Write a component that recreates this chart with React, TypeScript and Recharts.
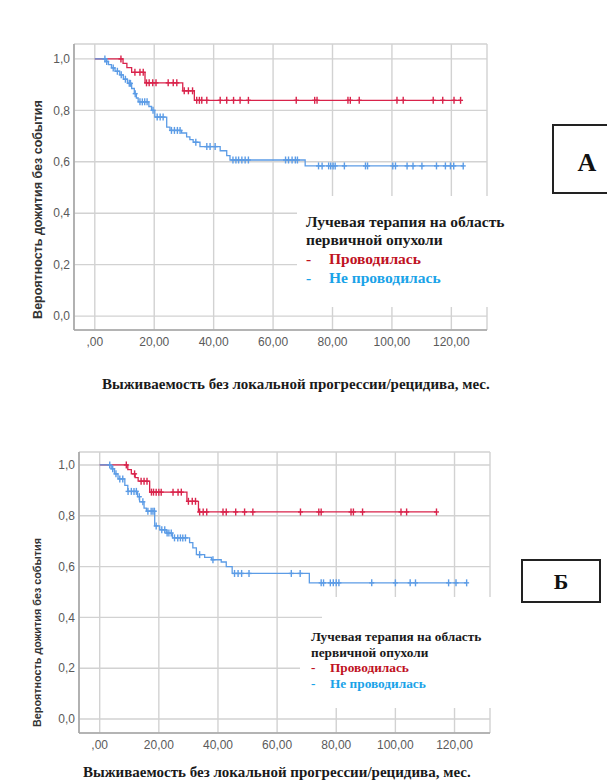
import React from "react";
import { ComposedChart, Line, Scatter, XAxis, YAxis, CartesianGrid } from "recharts";

// ─── Palette ────────────────────────────────────────────────────────────────
const RED = "#d9234b";
const BLUE = "#5c9ce6";
const LEG_RED = "#c0121f";
const LEG_BLUE = "#1aa3e8";
const GRID = "#d2d2d2";
const AXIS = "#a6a6a6";
const TICK = "#5a5a5a";

// ─── Data: panel А ──────────────────────────────────────────────────────────
const redA_t = [0, 9.5, 10.8, 12.4, 16.9, 29.6, 33.5];
const redA_s = [1, 0.983, 0.966, 0.948, 0.907, 0.876, 0.839];
const redA_end = 123.1;
const redA_cens = [8.8, 13.5, 15.2, 16.3, 17.4, 18.3, 19.5, 20.6, 24.7, 26.4, 27.6, 30.1, 31.5, 32.9, 34.3, 35.2, 36.0, 37.7, 42.2, 44.4, 46.7, 48.9, 51.7, 67.8, 74.0, 74.8, 85.2, 86.0, 89.0, 101.7, 103.8, 113.9, 117.1, 120.9, 123.1];

const blueA_t = [0, 3.8, 4.6, 5.6, 6.8, 8.4, 9.6, 11.0, 12.4, 13.3, 14.0, 14.6, 18.2, 19.1, 20.2, 24.2, 25.3, 29.2, 30.9, 32.0, 33.1, 35.4, 42.2, 44.4, 45.5, 70.8];
const blueA_s = [1, 0.99, 0.978, 0.965, 0.952, 0.938, 0.921, 0.905, 0.885, 0.865, 0.848, 0.833, 0.815, 0.8, 0.774, 0.735, 0.722, 0.712, 0.697, 0.686, 0.676, 0.659, 0.643, 0.624, 0.607, 0.584];
const blueA_end = 124.0;
const blueA_cens = [3.4, 4.0, 6.2, 7.6, 8.9, 10.3, 11.6, 12.0, 13.6, 15.2, 16.0, 16.8, 17.6, 19.6, 21.0, 22.0, 23.0, 25.8, 26.8, 27.8, 28.7, 34.0, 37.7, 38.8, 40.5, 46.5, 47.5, 48.4, 49.5, 50.6, 51.7, 64.2, 65.2, 66.4, 67.5, 68.2, 75.3, 76.5, 78.7, 79.4, 80.2, 80.9, 84.0, 91.1, 91.8, 100.3, 101.2, 105.1, 107.1, 110.1, 115.0, 118.0, 119.7, 120.8, 124.0];

// ─── Data: panel Б ──────────────────────────────────────────────────────────
const redB_t = [0, 9.5, 10.7, 12.0, 13.0, 16.9, 29.5, 33.4];
const redB_s = [1, 0.982, 0.965, 0.95, 0.936, 0.893, 0.857, 0.815];
const redB_end = 113.9;
const redB_cens = [9.0, 11.8, 14.0, 15.0, 16.0, 17.5, 18.2, 19.1, 20.0, 20.8, 24.8, 26.5, 27.6, 30.0, 31.3, 32.4, 33.8, 35.0, 36.2, 41.7, 42.8, 46.0, 49.0, 51.8, 67.9, 74.1, 74.9, 85.0, 85.8, 88.9, 101.9, 103.8, 113.9];

const blueB_t = [0, 3.9, 5.0, 6.2, 8.5, 9.5, 12.8, 13.5, 15.0, 15.8, 18.6, 20.3, 22.5, 24.6, 30.4, 31.5, 32.7, 35.5, 37.8, 41.1, 42.8, 44.8, 70.9];
const blueB_s = [1, 0.985, 0.965, 0.945, 0.92, 0.896, 0.875, 0.855, 0.83, 0.818, 0.76, 0.745, 0.732, 0.713, 0.694, 0.674, 0.647, 0.636, 0.627, 0.618, 0.6, 0.573, 0.536];
const blueB_end = 124.1;
const blueB_cens = [3.4, 4.4, 5.5, 6.8, 7.8, 9.6, 10.7, 11.6, 12.4, 13.4, 14.6, 16.3, 17.4, 18.0, 18.5, 19.1, 21.0, 22.0, 22.8, 23.4, 24.2, 25.3, 26.4, 27.3, 28.1, 29.0, 33.8, 38.3, 45.6, 46.8, 48.0, 50.5, 64.8, 67.8, 74.9, 75.7, 78.0, 79.0, 80.0, 80.9, 92.0, 100.0, 105.0, 106.8, 118.0, 120.5, 124.1];

// ─── Axis text ──────────────────────────────────────────────────────────────
const X_TICKS = [0, 20, 40, 60, 80, 100, 120];
const Y_TICKS = [0, 0.2, 0.4, 0.6, 0.8, 1.0];
const Y_TITLE = "Вероятность дожития без события";
const X_TITLE = "Выживаемость без локальной прогрессии/рецидива, мес.";
const LEG_HEAD = ["Лучевая терапия на область", "первичной опухоли"];
const LEG_ITEMS = ["Проводилась", "Не проводилась"];

const fmtX = (v: number) => (v === 0 ? ",00" : v.toFixed(2).replace(".", ","));
const fmtY = (v: number) => v.toFixed(1).replace(".", ",");

function stepData(t: number[], s: number[], end: number) {
  const pts = t.map((x, i) => ({ t: x, s: s[i] }));
  pts.push({ t: end, s: s[s.length - 1] });
  return pts;
}

function survAt(t: number[], s: number[], x: number) {
  let v = s[0];
  for (let i = 0; i < t.length; i++) if (t[i] <= x) v = s[i];
  return v;
}

function censData(t: number[], s: number[], cens: number[]) {
  return cens.map((x) => ({ t: x, s: survAt(t, s, x) }));
}

const plus = (color: string) => (p: any) => (
  <g>
    <line x1={p.cx} y1={p.cy - 3.5} x2={p.cx} y2={p.cy + 3.5} stroke={color} strokeWidth={1.4} />
    <line x1={p.cx - 2.5} y1={p.cy} x2={p.cx + 2.5} y2={p.cy} stroke={color} strokeWidth={1.4} />
  </g>
);

interface PanelProps {
  top: number;
  height: number;
  margin: { top: number; right: number; bottom: number; left: number };
  yDomain: [number, number];
  red: [number[], number[], number, number[]];
  blue: [number[], number[], number, number[]];
}

function Panel({ top, height, margin, yDomain, red, blue }: PanelProps) {
  const tickStyle = { fill: TICK, fontSize: 12, fontFamily: "Liberation Sans, Arial, sans-serif" };
  return (
    <div style={{ position: "absolute", left: 0, top }}>
      <ComposedChart width={607} height={height} margin={margin}>
        <CartesianGrid stroke={GRID} strokeWidth={1.4} fill="none" />
        <XAxis
          dataKey="t"
          type="number"
          domain={[-7, 132]}
          allowDataOverflow
          ticks={X_TICKS}
          tickFormatter={fmtX}
          tick={tickStyle}
          tickLine={false}
          tickSize={4}
          tickMargin={3}
          height={30}
          axisLine={{ stroke: AXIS, strokeWidth: 1.6 }}
        />
        <YAxis
          dataKey="s"
          type="number"
          domain={yDomain}
          allowDataOverflow
          ticks={Y_TICKS}
          tickFormatter={fmtY}
          tick={tickStyle}
          tickLine={false}
          tickSize={2}
          tickMargin={2}
          width={40}
          axisLine={{ stroke: AXIS, strokeWidth: 1.6 }}
        />
        <Line data={stepData(red[0], red[1], red[2])} dataKey="s" type="stepAfter" stroke={RED} strokeWidth={1.3} dot={false} isAnimationActive={false} />
        <Line data={stepData(blue[0], blue[1], blue[2])} dataKey="s" type="stepAfter" stroke={BLUE} strokeWidth={1.3} dot={false} isAnimationActive={false} />
        <Scatter data={censData(red[0], red[1], red[3])} dataKey="s" shape={plus(RED)} isAnimationActive={false} />
        <Scatter data={censData(blue[0], blue[1], blue[3])} dataKey="s" shape={plus(BLUE)} isAnimationActive={false} />
      </ComposedChart>
    </div>
  );
}

function YTitle({ cx, cy, size }: { cx: number; cy: number; size: number }) {
  const w = 300;
  return (
    <div
      style={{
        position: "absolute",
        left: cx - w / 2,
        top: cy - size * 0.6,
        width: w,
        height: size * 1.2,
        lineHeight: `${size * 1.2}px`,
        textAlign: "center",
        transform: "rotate(-90deg)",
        fontFamily: "Liberation Sans, Arial, sans-serif",
        fontWeight: 700,
        fontSize: size,
        color: "#333",
        whiteSpace: "nowrap",
      }}
    >
      {Y_TITLE}
    </div>
  );
}

function Legend({ left, top, size, lh, gap }: { left: number; top: number; size: number; lh: number; gap: number }) {
  const serif = "Liberation Serif, Times New Roman, serif";
  return (
    <div style={{ position: "absolute", left, top, fontFamily: serif, fontWeight: 700, fontSize: size, lineHeight: `${lh}px`, color: "#1a1a1a", whiteSpace: "nowrap" }}>
      <div>{LEG_HEAD[0]}</div>
      <div>{LEG_HEAD[1]}</div>
      <div style={{ color: LEG_RED }}>
        <span style={{ display: "inline-block", width: gap }}>-</span>
        {LEG_ITEMS[0]}
      </div>
      <div style={{ color: LEG_BLUE }}>
        <span style={{ display: "inline-block", width: gap }}>-</span>
        {LEG_ITEMS[1]}
      </div>
    </div>
  );
}

const whiteBox = (left: number, top: number, width: number, height: number) => (
  <div style={{ position: "absolute", left, top, width, height, background: "#fff" }} />
);

function Tag({ left, top, w, h, letter, size, pad }: { left: number; top: number; w: number; h: number; letter: string; size: number; pad: number }) {
  return (
    <div
      style={{
        position: "absolute",
        left,
        top,
        width: w,
        height: h,
        paddingTop: pad,
        border: "2px solid #222",
        boxSizing: "border-box",
        display: "flex",
        alignItems: "center",
        justifyContent: "center",
        fontFamily: "Liberation Serif, Times New Roman, serif",
        fontWeight: 700,
        fontSize: size,
        color: "#111",
      }}
    >
      {letter}
    </div>
  );
}

export default function App() {
  const serif = "Liberation Serif, Times New Roman, serif";
  return (
    <div style={{ position: "absolute", left: 0, top: 0, width: 607, height: 782, background: "#fff", overflow: "hidden" }}>
      {/* ── Panel А ─────────────────────────────────────────────────── */}
      <Panel
        top={0}
        height={400}
        margin={{ top: 44, right: 120, bottom: 40, left: 34 }}
        yDomain={[-0.054, 1.058]}
        red={[redA_t, redA_s, redA_end, redA_cens]}
        blue={[blueA_t, blueA_s, blueA_end, blueA_cens]}
      />
      {whiteBox(297, 196, 248, 111)}
      <Legend left={306} top={212.5} size={15.5} lh={18.7} gap={23} />
      <YTitle cx={38} cy={209} size={12.5} />
      <div style={{ position: "absolute", left: 102, top: 376, fontFamily: serif, fontWeight: 700, fontSize: 15, color: "#1a1a1a", whiteSpace: "nowrap" }}>
        {X_TITLE}
      </div>
      <Tag left={552} top={124} w={70} h={70} letter="А" size={26} pad={8} />

      {/* ── Panel Б ─────────────────────────────────────────────────── */}
      <Panel
        top={400}
        height={382}
        margin={{ top: 52, right: 117, bottom: 19, left: 39 }}
        yDomain={[-0.055, 1.051]}
        red={[redB_t, redB_s, redB_end, redB_cens]}
        blue={[blueB_t, blueB_s, blueB_end, blueB_cens]}
      />
      {whiteBox(322, 597, 235, 111)}
      {whiteBox(300, 626, 30, 82)}
      <Legend left={311} top={629} size={13.3} lh={15.7} gap={19} />
      <YTitle cx={37} cy={632} size={10.8} />
      <div style={{ position: "absolute", left: 83, top: 764, fontFamily: serif, fontWeight: 700, fontSize: 15, color: "#1a1a1a", whiteSpace: "nowrap" }}>
        {X_TITLE}
      </div>
      <Tag left={521} top={559} w={80} h={44} letter="Б" size={22} pad={2} />
    </div>
  );
}
